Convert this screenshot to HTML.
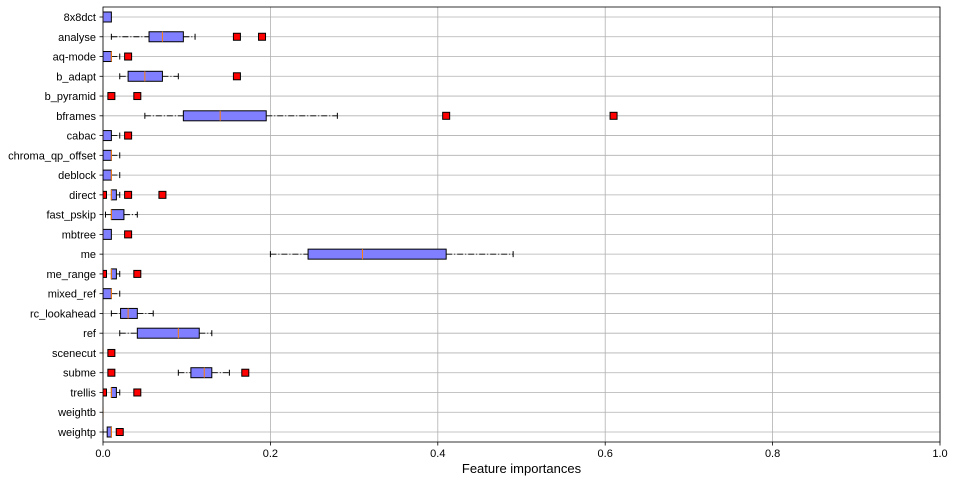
<!DOCTYPE html>
<html><head><meta charset="utf-8"><style>
body{margin:0;background:#fff;}
svg{display:block;font-family:"Liberation Sans","DejaVu Sans",sans-serif;}
</style></head><body>
<svg id="chart" width="955" height="483" xmlns="http://www.w3.org/2000/svg"></svg>
<script>
const categories=["8x8dct","analyse","aq-mode","b_adapt","b_pyramid","bframes","cabac","chroma_qp_offset","deblock","direct","fast_pskip","mbtree","me","me_range","mixed_ref","rc_lookahead","ref","scenecut","subme","trellis","weightb","weightp"];
const whiskLo=[0,0.01,0,0.02,0,0.05,0,0,0,0.01,0.003,0,0.2,0.01,0,0.01,0.02,0,0.09,0.01,0,0];
const q1=[0,0.055,0,0.03,0,0.096,0,0,0,0.01,0.01,0,0.245,0.01,0,0.021,0.041,0,0.105,0.01,0,0.005];
const medians=[0,0.071,0.01,0.05,0,0.14,0,0.01,0.01,0.01,0.01,0,0.31,0.01,0.01,0.03,0.09,0,0.121,0.01,0,0.01];
const q3=[0.01,0.096,0.01,0.071,0,0.195,0.01,0.01,0.01,0.016,0.025,0.01,0.41,0.016,0.01,0.041,0.115,0,0.13,0.016,0,0.01];
const whiskHi=[0.01,0.11,0.02,0.09,0,0.28,0.02,0.02,0.02,0.02,0.041,0.01,0.49,0.02,0.02,0.06,0.13,0,0.151,0.02,0,0.01];
const outliers=[[],[0.16,0.19],[0.03],[0.16],[0.01,0.041],[0.41,0.61],[0.03],[],[],[0,0.03,0.071],[],[0.03],[],[0,0.041],[],[],[],[0.01],[0.01,0.17],[0,0.041],[],[0.02]];
const xTicks=[0,0.2,0.4,0.6,0.8,1.0];
const xTickLabels=["0.0","0.2","0.4","0.6","0.8","1.0"];

const NS="http://www.w3.org/2000/svg";
const svg=document.getElementById('chart');
const L=103,R=940,T=7,B=442;
const xs=v=>L+v*(R-L);
const ys=i=>17+i*((432-17)/(categories.length-1));
function mk(tag,attrs,parent){const e=document.createElementNS(NS,tag);for(const k in attrs)e.setAttribute(k,attrs[k]);(parent||svg).appendChild(e);return e;}

const defs=mk('defs',{});
const cp=mk('clipPath',{id:'plotclip'},defs);
mk('rect',{x:L,y:T,width:R-L,height:B-T},cp);

xTicks.forEach((t,i)=>{
  const g=mk('line',{x1:xs(t),x2:xs(t),y1:T,y2:B,stroke:'#b0b0b0','stroke-width':0.8});
  
  
  const tk=mk('line',{x1:xs(t),x2:xs(t),y1:B,y2:B+3.5,stroke:'#000','stroke-width':0.8});
  
  
  const tx=mk('text',{x:xs(t),y:B+15,'font-size':11,'text-anchor':'middle',fill:'#000'});
  tx.textContent=xTickLabels[i];
  
  
});
categories.forEach((c,i)=>{
  const y=ys(i);
  const g=mk('line',{x1:L,x2:R,y1:y,y2:y,stroke:'#b0b0b0','stroke-width':0.8});
  
  
  const tk=mk('line',{x1:L-3.5,x2:L,y1:y,y2:y,stroke:'#000','stroke-width':0.8});
  
  
  const tx=mk('text',{x:L-7,y:y+4,'font-size':11,'text-anchor':'end',fill:'#000'});
  tx.textContent=c;
  
  
});
const plot=mk('g',{'clip-path':'url(#plotclip)'});
categories.forEach((c,i)=>{
  const y=ys(i),h=10;
  const grp=mk('g',{},plot);
  
  
  const dash={stroke:'#000','stroke-width':0.9,'stroke-dasharray':'6,2,1,2'};
  if(whiskLo[i]<q1[i]) mk('line',Object.assign({x1:xs(whiskLo[i]),x2:xs(q1[i]),y1:y,y2:y},dash),grp);
  if(whiskHi[i]>q3[i]) mk('line',Object.assign({x1:xs(q3[i]),x2:xs(whiskHi[i]),y1:y,y2:y},dash),grp);
  if(whiskLo[i]<q1[i]) mk('line',{x1:xs(whiskLo[i]),x2:xs(whiskLo[i]),y1:y-3,y2:y+3,stroke:'#000','stroke-width':1},grp);
  if(whiskHi[i]>q3[i]) mk('line',{x1:xs(whiskHi[i]),x2:xs(whiskHi[i]),y1:y-3,y2:y+3,stroke:'#000','stroke-width':1},grp);
  if(q3[i]>q1[i]) mk('rect',{x:xs(q1[i]),y:y-h/2,width:xs(q3[i])-xs(q1[i]),height:h,fill:'#7f7fff',stroke:'#000','stroke-width':1},grp);
  mk('line',{x1:xs(medians[i]),x2:xs(medians[i]),y1:y-h/2,y2:y+h/2,stroke:'#ff7f0e','stroke-width':1},grp);
  outliers[i].forEach(v=>{
    const o=mk('rect',{x:xs(v)-3.5,y:y-3.5,width:7,height:7,fill:'#ff0000',stroke:'#000','stroke-width':1},plot);
    
    
  });
});
const frame=mk('rect',{x:L,y:T,width:R-L,height:B-T,fill:'none',stroke:'#000','stroke-width':0.8});


const xl=mk('text',{x:(L+R)/2,y:473,'font-size':13,'text-anchor':'middle',fill:'#000'});
xl.textContent='Feature importances';


</script>
</body></html>
